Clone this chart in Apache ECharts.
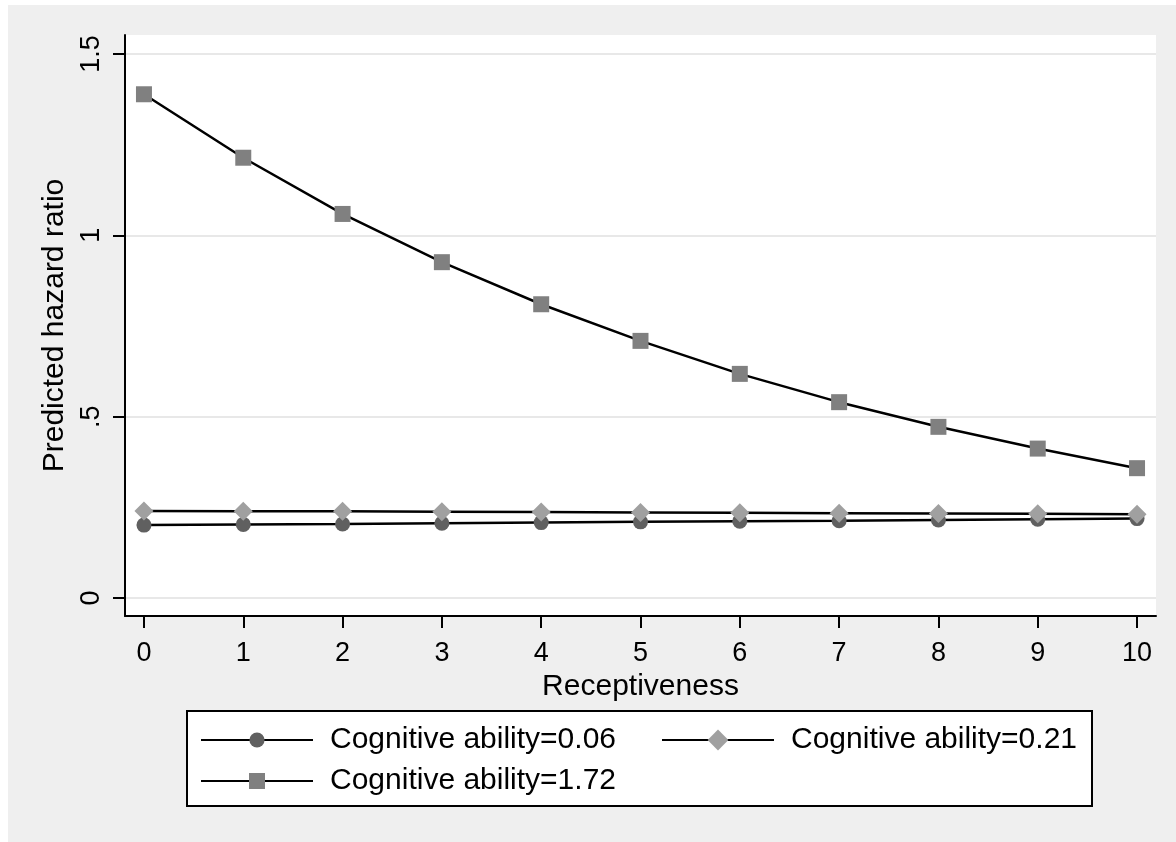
<!DOCTYPE html>
<html>
<head>
<meta charset="utf-8">
<script src="https://cdn.jsdelivr.net/npm/echarts@6/dist/echarts.min.js"></script>
<style>
html,body{margin:0;padding:0;background:#fff;}
#chart{width:1176px;height:842px;}
</style>
</head>
<body>
<div id="chart"></div>
<script>
// ---- data ----
var receptiveness = [0, 1, 2, 3, 4, 5, 6, 7, 8, 9, 10];
var seriesNames = ['Cognitive ability=0.06', 'Cognitive ability=0.21', 'Cognitive ability=1.72'];
var cog006 = [0.201, 0.203, 0.204, 0.206, 0.208, 0.210, 0.212, 0.213, 0.215, 0.217, 0.219];
var cog021 = [0.240, 0.239, 0.239, 0.238, 0.237, 0.236, 0.235, 0.234, 0.233, 0.232, 0.231];
var cog172 = [1.389, 1.214, 1.059, 0.926, 0.810, 0.709, 0.618, 0.540, 0.472, 0.412, 0.358];
var xTickValues = [0, 1, 2, 3, 4, 5, 6, 7, 8, 9, 10];
var yTickValues = [0, 0.5, 1, 1.5];
var yTickLabels = ['0', '.5', '1', '1.5'];

function pairs(ys) { return receptiveness.map(function (x, i) { return [x, ys[i]]; }); }

var FONT = '"Liberation Sans", Arial, sans-serif';
var chart = echarts.init(document.getElementById('chart'), null, { renderer: 'canvas' });

function legendCfg(name, left, top, itemH) {
  return {
    data: [name],
    left: left,
    top: top,
    orient: 'horizontal',
    padding: 0,
    itemWidth: 112,
    itemHeight: itemH,
    selectedMode: false,
    textStyle: { fontSize: 30, color: '#000', fontFamily: FONT, padding: [0, 0, 0, 12] }
  };
}

var option = {
  animation: false,
  backgroundColor: '#ffffff',
  textStyle: { fontFamily: FONT },
  graphic: [
    { type: 'rect', z: -10, shape: { x: 8, y: 5, width: 1168, height: 837 }, style: { fill: '#efefef' }, silent: true },
    { type: 'rect', z: 1, shape: { x: 187, y: 711, width: 905, height: 95 }, style: { fill: '#ffffff', stroke: '#000', lineWidth: 2 }, silent: true }
  ],
  grid: {
    left: 125, top: 35, right: 20, bottom: 226,
    show: true, backgroundColor: '#ffffff', borderWidth: 0
  },
  xAxis: {
    type: 'value',
    min: -0.191, max: 10.191,
    name: 'Receptiveness',
    nameLocation: 'middle',
    nameGap: 44,
    nameTextStyle: { fontSize: 30, color: '#000', fontFamily: FONT },
    axisLine: { show: true, onZero: false, lineStyle: { color: '#000', width: 2 } },
    axisTick: { show: true, length: 12, customValues: xTickValues, lineStyle: { color: '#000', width: 2 } },
    axisLabel: { customValues: xTickValues, fontSize: 27, color: '#000', margin: 24, fontFamily: FONT },
    splitLine: { show: false }
  },
  yAxis: {
    type: 'value',
    min: -0.0496, max: 1.5524,
    name: 'Predicted hazard ratio',
    nameLocation: 'middle',
    nameRotate: 90,
    nameGap: 46,
    nameTextStyle: { fontSize: 30, color: '#000', fontFamily: FONT },
    axisLine: { show: true, onZero: false, lineStyle: { color: '#000', width: 2 } },
    axisTick: { show: true, length: 12, customValues: yTickValues, lineStyle: { color: '#000', width: 2 } },
    axisLabel: {
      customValues: yTickValues, rotate: 90, fontSize: 27, color: '#000', margin: 20, fontFamily: FONT,
      formatter: function (v) {
        for (var i = 0; i < yTickValues.length; i++) { if (Math.abs(v - yTickValues[i]) < 1e-9) return yTickLabels[i]; }
        return '';
      }
    },
    splitLine: { show: true, lineStyle: { color: '#e8e8e8', width: 2 } }
  },
  legend: [
    legendCfg(seriesNames[0], 200, 725, 19),
    legendCfg(seriesNames[1], 661, 725, 26),
    legendCfg(seriesNames[2], 200, 766, 20)
  ],
  series: [
    {
      name: seriesNames[0], type: 'line', data: pairs(cog006),
      symbol: 'circle', symbolSize: 15,
      itemStyle: { color: '#606060' },
      lineStyle: { color: '#000', width: 2.5 }, z: 2
    },
    {
      name: seriesNames[1], type: 'line', data: pairs(cog021),
      symbol: 'diamond', symbolSize: [19, 19],
      itemStyle: { color: '#a0a0a0' },
      lineStyle: { color: '#000', width: 2.5 }, z: 3
    },
    {
      name: seriesNames[2], type: 'line', data: pairs(cog172),
      symbol: 'rect', symbolSize: 16,
      itemStyle: { color: '#808080' },
      lineStyle: { color: '#000', width: 2.5 }, z: 4
    }
  ]
};
chart.setOption(option);
</script>
</body>
</html>
